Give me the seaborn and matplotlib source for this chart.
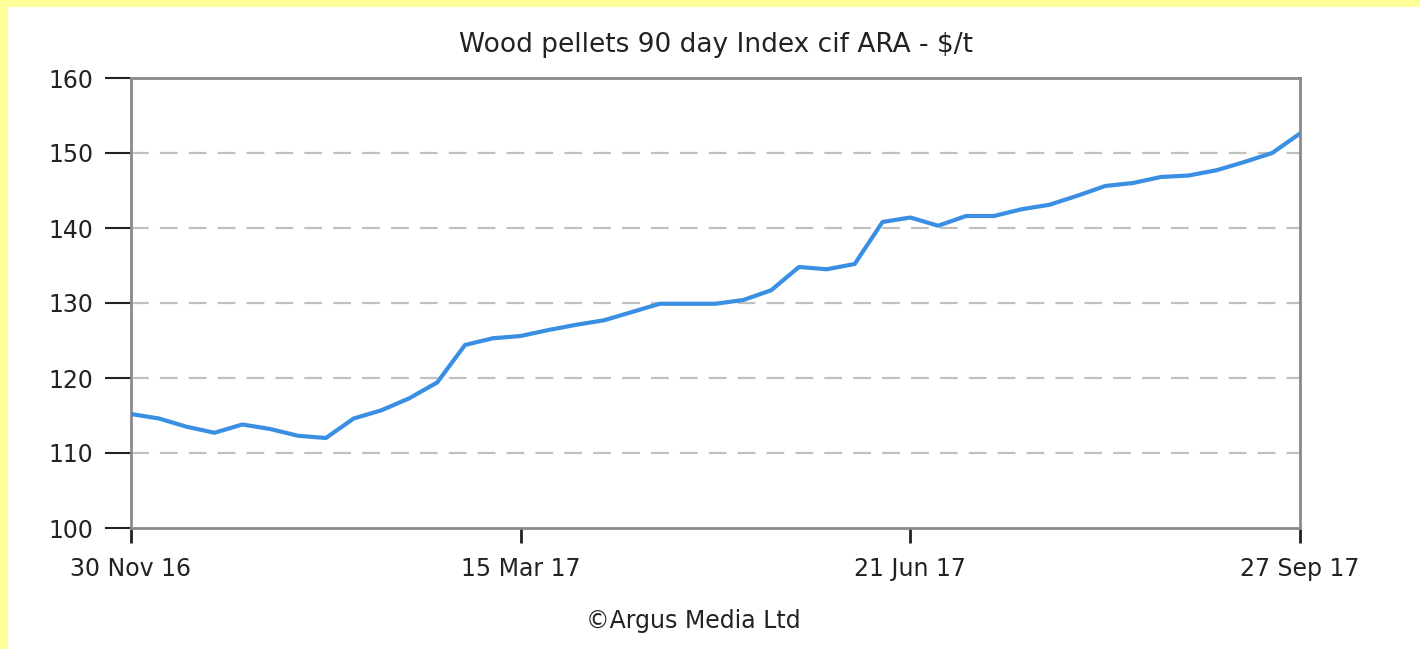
import pandas as pd
import matplotlib
matplotlib.use("Agg")
import matplotlib.pyplot as plt
from matplotlib.patches import Rectangle
import seaborn as sns

# ==========================================
# DATA
# ==========================================

# weekly assessments, 28 Dec 16 holiday week missing
week_dates = [
    d for d in pd.date_range("2016-11-30", "2017-09-27", freq="7D")
    if d != pd.Timestamp("2016-12-28")
]

index_values = [
    115.2, 114.6, 113.5, 112.7, 113.8, 113.2, 112.3, 112.0, 114.6, 115.7,
    117.3, 119.4, 124.4, 125.3, 125.6, 126.4, 127.1, 127.7, 128.8, 129.9,
    129.9, 129.9, 130.4, 131.7, 134.8, 134.5, 135.2, 140.8, 141.4, 140.3,
    141.6, 141.6, 142.5, 143.1, 144.3, 145.6, 146.0, 146.8, 147.0, 147.7,
    148.8, 150.0, 152.6,
]

tick_dates = ["2016-11-30", "2017-03-15", "2017-06-21", "2017-09-27"]
y_ticks = [100, 110, 120, 130, 140, 150, 160]

df = pd.DataFrame({
    "week": range(len(week_dates)),
    "date": week_dates,
    "price": index_values,
})

# ==========================================
# FIGURE
# ==========================================

sns.set_style("white")
plt.rcParams["font.family"] = ["DejaVu Sans"]

fig = plt.figure(figsize=(14.2, 6.49), dpi=100, facecolor="white")

# yellow frame on top and left
fig.patches.append(
    Rectangle((0, 1 - 7 / 649), 1, 7 / 649, transform=fig.transFigure,
              facecolor="#ffff99", edgecolor="none", zorder=-10)
)
fig.patches.append(
    Rectangle((0, 0), 8 / 1420, 1, transform=fig.transFigure,
              facecolor="#ffff99", edgecolor="none", zorder=-10)
)

ax = fig.add_axes([131 / 1420, 1 - 528 / 649, 1169 / 1420, 450 / 649])
ax.set_facecolor("white")

for yv in y_ticks[1:-1]:
    ax.axhline(yv, color="#c0c0c0", linewidth=1.6,
               dashes=(8, 5), zorder=1)

sns.lineplot(
    data=df,
    x="week",
    y="price",
    ax=ax,
    color="#3a8fe3",
    linewidth=3,
    zorder=3
)

ax.set_xlim(0, len(week_dates) - 1)
ax.set_ylim(100, 160)
ax.set_yticks(y_ticks)
ax.set_yticklabels([str(v) for v in y_ticks], fontsize=17, color="#222222")

tick_pos = [list(df["date"]).index(pd.Timestamp(d)) for d in tick_dates]
ax.set_xticks(tick_pos)
ax.set_xticklabels(
    [pd.Timestamp(d).strftime("%d %b %y") for d in tick_dates],
    fontsize=17, color="#222222"
)

ax.tick_params(axis="y", direction="out", length=19, width=1.5,
               color="#222222", pad=8, left=True)
ax.tick_params(axis="x", direction="out", length=11, width=2,
               color="#222222", pad=10, bottom=True)

for side in ["left", "right", "top", "bottom"]:
    ax.spines[side].set_visible(True)
    ax.spines[side].set_color("#8a8a8a")
    ax.spines[side].set_linewidth(2)

ax.set_xlabel("")
ax.set_ylabel("")

fig.text(716 / 1420, 1 - 45 / 649, "Wood pellets 90 day Index cif ARA - $/t",
         ha="center", va="center", fontsize=19, color="#222222")
fig.text(693 / 1420, 1 - 621 / 649, "\u00a9Argus Media Ltd",
         ha="center", va="center", fontsize=17, color="#222222")

fig.savefig("out.png", dpi=100, facecolor=fig.get_facecolor())
